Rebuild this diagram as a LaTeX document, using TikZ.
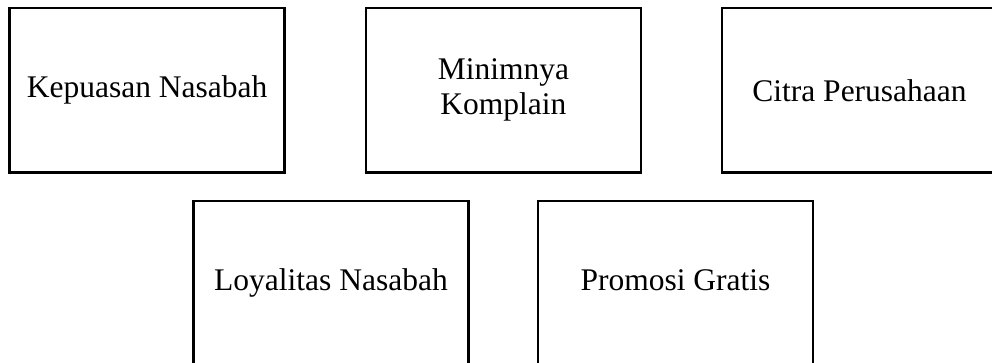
\documentclass[tikz,border=0pt]{standalone}
\usepackage{fontspec}
\setmainfont{Liberation Serif}
\begin{document}
\begin{tikzpicture}[x=1pt,y=-1pt,
  box/.style={draw=black, line width=2.3pt, rectangle, minimum width=275pt,
    minimum height=164.5pt, inner sep=0pt, align=center,
    font=\fontsize{31.5}{35}\selectfont},
  lowbox/.style={box, minimum height=172pt, text depth=14pt}]
\useasboundingbox (0,0) rectangle (992,363);
\fill[white] (0,0) rectangle (992,363);
\clip (0,0) rectangle (992,363);
\node[box] (kepuasan) at (147.1,90.3) {Kepuasan Nasabah};
\node[box] (komplain) at (503.4,90.3) {Minimnya\\Komplain};
\node[box] (citra) at (859.5,90.3) {Citra Perusahaan};
\node[lowbox] (loyalitas) at (331,287) {Loyalitas Nasabah};
\node[lowbox] (promosi) at (675.5,287) {Promosi Gratis};
\end{tikzpicture}
\end{document}
